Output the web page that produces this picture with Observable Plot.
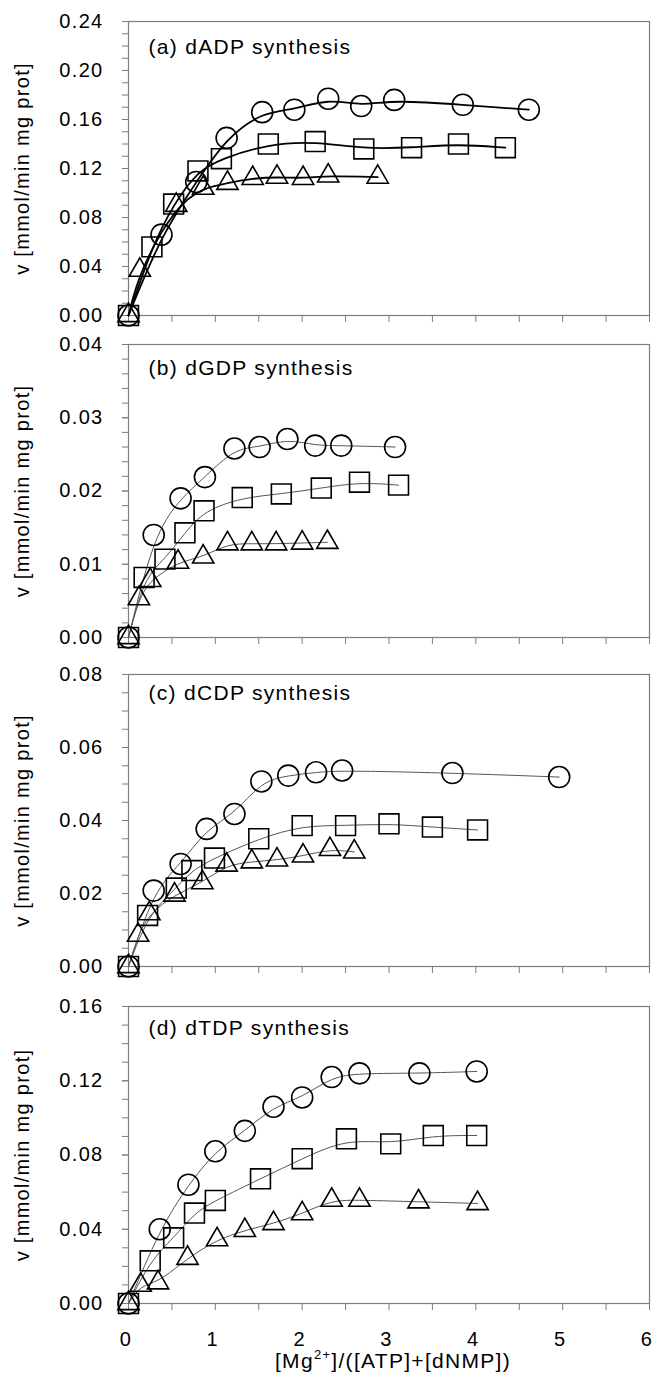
<!DOCTYPE html>
<html><head><meta charset="utf-8">
<script src="https://cdn.jsdelivr.net/npm/d3@7"></script>
<script src="https://cdn.jsdelivr.net/npm/@observablehq/plot@0.6"></script>
<style>
body{margin:0;background:#fff;}
#wrap{position:relative;width:654px;height:1382px;font-family:"Liberation Sans",Arial,sans-serif;background:#fff;overflow:hidden;}
.panel{position:absolute;left:0;}
.panel svg text{letter-spacing:1.3px;}
#xtitle{position:absolute;left:393px;top:1349px;transform:translateX(-50%);font-size:21px;line-height:24px;white-space:nowrap;letter-spacing:1.3px;color:#000;}
#xtitle sup{font-size:13px;line-height:0;vertical-align:9px;}
</style></head><body><div id="wrap"></div>
<script>
// ---- data (x = [Mg2+]/([ATP]+[dNMP]), v = mmol/min mg prot) ----
const aCircleX = [0, 0.38, 0.78, 1.13, 1.54, 1.91, 2.30, 2.68, 3.06, 3.85, 4.61];
const aCircleV = [0, 0.066, 0.109, 0.145, 0.166, 0.168, 0.177, 0.171, 0.176, 0.172, 0.168];
const aSquareX = [0, 0.27, 0.52, 0.80, 1.07, 1.61, 2.15, 2.71, 3.26, 3.80, 4.34];
const aSquareV = [0, 0.056, 0.091, 0.118, 0.128, 0.140, 0.142, 0.136, 0.137, 0.140, 0.137];
const aTriX = [0, 0.13, 0.55, 0.86, 1.14, 1.43, 1.71, 2.01, 2.30, 2.87];
const aTriV = [0, 0.037, 0.090, 0.104, 0.108, 0.112, 0.113, 0.112, 0.114, 0.113];

const bCircleX = [0, 0.29, 0.60, 0.88, 1.22, 1.51, 1.83, 2.15, 2.45, 3.07];
const bCircleV = [0, 0.0140, 0.0190, 0.0219, 0.0258, 0.0260, 0.0271, 0.0262, 0.0262, 0.0260];
const bSquareX = [0, 0.18, 0.42, 0.65, 0.87, 1.31, 1.76, 2.22, 2.66, 3.11];
const bSquareV = [0, 0.0082, 0.0107, 0.0143, 0.0173, 0.0191, 0.0196, 0.0204, 0.0212, 0.0208];
const bTriX = [0, 0.12, 0.25, 0.57, 0.86, 1.14, 1.42, 1.70, 2.00, 2.29];
const bTriV = [0, 0.0053, 0.0078, 0.0103, 0.0110, 0.0128, 0.0128, 0.0128, 0.0129, 0.0130];

const cCircleX = [0, 0.29, 0.60, 0.90, 1.22, 1.53, 1.84, 2.16, 2.46, 3.73, 4.96];
const cCircleV = [0, 0.0208, 0.0281, 0.0377, 0.0418, 0.0507, 0.0523, 0.0532, 0.0537, 0.0530, 0.0519];
const cSquareX = [0, 0.22, 0.55, 0.73, 0.99, 1.50, 2.00, 2.50, 3.00, 3.50, 4.02];
const cSquareV = [0, 0.0140, 0.0215, 0.0263, 0.0297, 0.0350, 0.0386, 0.0386, 0.0391, 0.0382, 0.0374];
const cTriX = [0, 0.11, 0.24, 0.53, 0.85, 1.13, 1.42, 1.71, 2.01, 2.32, 2.60];
const cTriV = [0, 0.0086, 0.0145, 0.0196, 0.0230, 0.0278, 0.0287, 0.0292, 0.0303, 0.0321, 0.0314];

const dCircleX = [0, 0.36, 0.69, 1.00, 1.34, 1.67, 2.00, 2.34, 2.66, 3.35, 4.01];
const dCircleV = [0, 0.040, 0.064, 0.082, 0.093, 0.106, 0.111, 0.122, 0.124, 0.124, 0.125];
const dSquareX = [0, 0.25, 0.52, 0.76, 1.00, 1.52, 2.00, 2.51, 3.02, 3.51, 4.01];
const dSquareV = [0, 0.023, 0.0354, 0.0487, 0.0555, 0.0672, 0.078, 0.0887, 0.086, 0.0905, 0.0905];
const dTriX = [0, 0.14, 0.34, 0.68, 1.02, 1.34, 1.67, 2.00, 2.34, 2.66, 3.34, 4.02];
const dTriV = [0, 0.0099, 0.0112, 0.0244, 0.0344, 0.0394, 0.0431, 0.0484, 0.0557, 0.0557, 0.0548, 0.0539];

// ---- ticks / labels ----
const xTicks = [0, 0.5, 1, 1.5, 2, 2.5, 3, 3.5, 4, 4.5, 5, 5.5, 6];
const xTickLabels = [0, 1, 2, 3, 4, 5, 6];
const aYTicks = [0, 0.04, 0.08, 0.12, 0.16, 0.20, 0.24];
const bYTicks = [0, 0.01, 0.02, 0.03, 0.04];
const cYTicks = [0, 0.02, 0.04, 0.06, 0.08];
const dYTicks = [0, 0.04, 0.08, 0.12, 0.16];
const panelTitles = ["(a) dADP synthesis", "(b) dGDP synthesis", "(c) dCDP synthesis", "(d) dTDP synthesis"];
const yTitle = "v [mmol/min mg prot]";

function rows(xs, vs, s) { return xs.map((x, i) => ({x, v: vs[i], s})); }

const FONT = '"Liberation Sans", Arial, sans-serif';
const AX = "#7d7d7d";

function panel(o) {
  const series = [
    {d: rows(o.cx, o.cv, "circle"), r: 10.5},
    {d: rows(o.sx, o.sv, "square"), r: 11.2},
    {d: rows(o.tx, o.tv, "triangle"), r: 7.9}
  ];
  const minor = d3.range(0, Math.round(o.ymax / o.minorStep) + 1).map(i => +(i * o.minorStep).toFixed(5));
  const marks = [
    Plot.frame({stroke: AX, strokeWidth: 1.2}),
    Plot.axisY(minor, {tickSize: 6, tickFormat: () => "", stroke: AX, label: null}),
    Plot.axisY(o.yTicks, {tickSize: 6, tickPadding: 19, tickFormat: d3.format(".2f"), stroke: AX, fill: "#000", fontSize: 20, label: null}),
    Plot.axisX(xTicks, {tickSize: 7, tickFormat: () => "", stroke: AX, label: null})
  ];
  if (o.xLabels) {
    marks.push(Plot.axisX(xTickLabels, {tickSize: 0, tickPadding: 28, dx: -2.5, fill: "#000", fontSize: 20, label: null, tickFormat: d => String(d)}));
  }
  marks.push(
    Plot.text([yTitle], {text: d => d, frameAnchor: "left", textAnchor: "middle", lineAnchor: "middle", rotate: -90, dx: -106, fontSize: 20, fill: "#000"}),
    Plot.text([o.title], {text: d => d, frameAnchor: "top-left", dx: 20, dy: o.titleDy, textAnchor: "start", lineAnchor: "middle", fontSize: 21, fill: "#000"})
  );
  for (const s of series) {
    marks.push(Plot.line(s.d, {x: "x", y: "v", curve: "basis", stroke: o.lineStroke, strokeWidth: o.lineWidth}));
  }
  for (const s of series) {
    marks.push(Plot.dot(s.d, {x: "x", y: "v", symbol: s.d[0].s, r: s.r, stroke: "#000", strokeWidth: 1.6, fill: "none"}));
  }
  const svg = Plot.plot({
    width: 654, height: o.height,
    marginLeft: 128, marginRight: 5, marginTop: o.mt, marginBottom: o.mb,
    x: {domain: [0, 6], label: null},
    y: {domain: [0, o.ymax], label: null},
    style: {fontFamily: FONT, fontSize: "20px", color: "#000", background: "transparent", overflow: "visible"},
    marks
  });
  const div = document.createElement("div");
  div.className = "panel";
  div.style.top = o.top + "px";
  div.appendChild(svg);
  document.getElementById("wrap").appendChild(div);
}

panel({top: 0, height: 330, mt: 21, mb: 15, ymax: 0.24, minorStep: 0.01, yTicks: aYTicks, title: panelTitles[0], titleDy: 26,
  cx: aCircleX, cv: aCircleV, sx: aSquareX, sv: aSquareV, tx: aTriX, tv: aTriV, lineStroke: "#000", lineWidth: 1.8});
panel({top: 330, height: 322, mt: 14, mb: 15, ymax: 0.04, minorStep: 0.002, yTicks: bYTicks, title: panelTitles[1], titleDy: 24,
  cx: bCircleX, cv: bCircleV, sx: bSquareX, sv: bSquareV, tx: bTriX, tv: bTriV, lineStroke: "#555", lineWidth: 1});
panel({top: 640, height: 341, mt: 34, mb: 15, ymax: 0.08, minorStep: 0.005, yTicks: cYTicks, title: panelTitles[2], titleDy: 19,
  cx: cCircleX, cv: cCircleV, sx: cSquareX, sv: cSquareV, tx: cTriX, tv: cTriV, lineStroke: "#555", lineWidth: 1});
panel({top: 985, height: 397, mt: 21, mb: 79, ymax: 0.16, minorStep: 0.01, yTicks: dYTicks, title: panelTitles[3], titleDy: 22, xLabels: true,
  cx: dCircleX, cv: dCircleV, sx: dSquareX, sv: dSquareV, tx: dTriX, tv: dTriV, lineStroke: "#555", lineWidth: 1});

const xt = document.createElement("div");
xt.id = "xtitle";
xt.innerHTML = "[Mg<sup>2+</sup>]/([ATP]+[dNMP])";
document.getElementById("wrap").appendChild(xt);
</script>
</body></html>
